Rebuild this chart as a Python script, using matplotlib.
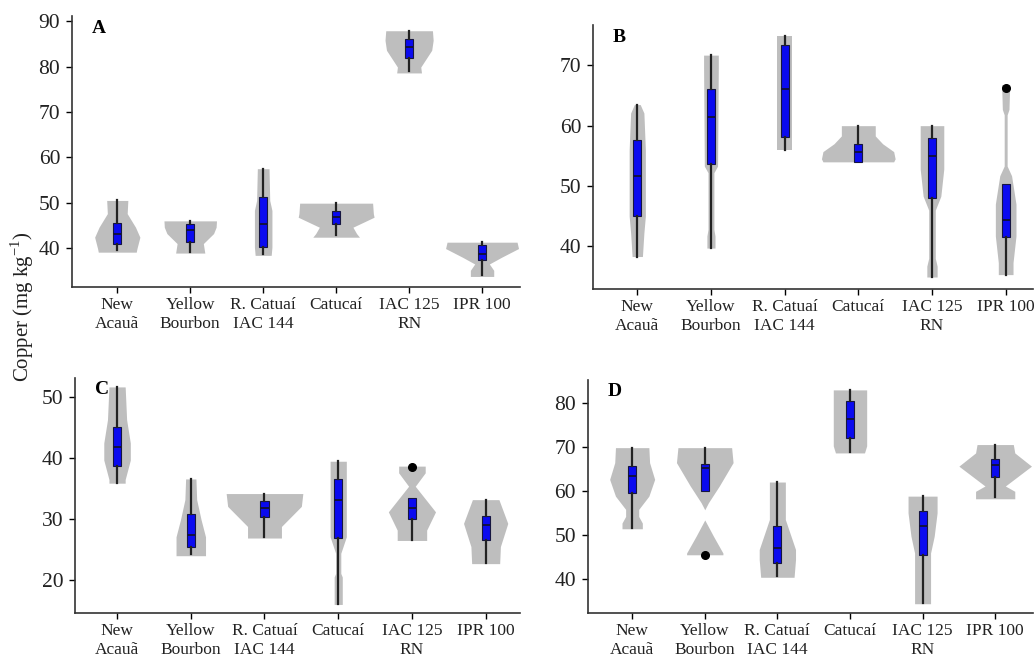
import matplotlib
matplotlib.use("Agg")
import matplotlib.pyplot as plt
import numpy as np

plt.rcParams['font.family'] = ['Liberation Serif', 'DejaVu Serif']
plt.rcParams['mathtext.fontset'] = 'custom'
plt.rcParams['mathtext.rm'] = 'Liberation Serif'

cultivars = ["New\nAcauã", "Yellow\nBourbon", "R. Catuaí\nIAC 144",
             "Catucaí", "IAC 125\nRN", "IPR 100"]

# box stats per cultivar: whisker low, q1, median, q3, whisker high
A_box = [[39.5, 41.0, 43.2, 45.5, 50.5],
         [39.1, 41.3, 43.9, 45.4, 46.0],
         [38.8, 40.2, 45.4, 51.3, 57.5],
         [42.8, 45.4, 46.8, 48.1, 49.9],
         [79.0, 82.0, 84.3, 86.0, 87.9],
         [34.0, 37.3, 38.6, 40.6, 41.3]]
A_out = [[], [], [], [], [], []]
# violin outline: levels and half widths
A_vy = [[50.5, 47.6, 44.6, 42.4, 39.9, 39.1],
        [46.0, 44.6, 43.2, 41.0, 38.9],
        [57.5, 50.5, 48.3, 40.2, 38.4],
        [49.9, 47.6, 46.8, 44.6, 43.2, 42.4],
        [87.9, 85.8, 83.6, 79.9, 78.6],
        [41.3, 39.9, 38.0, 36.5, 35.1, 33.75]]
A_vw = [[.145, .136, .25, .31, .27, .26],
        [.36, .355, .32, .18, .20],
        [.08, .09, .12, .12, .11],
        [.50, .51, .52, .23, .28, .32],
        [.32, .33, .31, .16, .17],
        [.48, .50, .27, .10, .16, .16]]

B_box = [[38.3, 45.0, 51.6, 57.7, 63.5],
         [39.7, 53.7, 61.5, 66.1, 71.7],
         [55.9, 58.2, 66.1, 73.3, 74.9],
         [54.0, 54.0, 55.7, 57.0, 60.0],
         [34.9, 48.0, 54.9, 58.0, 60.0],
         [35.3, 41.5, 44.4, 50.3, 50.3]]
B_out = [[], [], [], [], [], [66.2]]
B_vy = [[63.5, 62.1, 56.0, 45.0, 42.2, 38.3],
        [71.7, 69.8, 53.3, 52.2, 42.8, 41.7, 39.7],
        [74.9, 55.9],
        [60.0, 58.3, 57.0, 55.7, 54.5, 54.0],
        [60.0, 52.8, 48.3, 46.0, 38.0, 36.7, 34.9],
        [66.8, 62.7, 61.8, 53.3, 51.7, 47.0, 41.7, 37.3, 35.3]]
B_vw = [[.04, .09, .11, .11, .09, .07],
        [.10, .10, .09, .04, .04, .055, .055],
        [.105, .105],
        [.23, .23, .33, .48, .50, .48],
        [.16, .16, .12, .045, .045, .07, .07],
        [.055, .045, .02, .02, .08, .14, .14, .10, .10]]

C_box = [[35.9, 38.8, 41.8, 45.1, 51.7],
         [24.2, 25.5, 27.4, 30.9, 36.6],
         [27.0, 30.4, 31.8, 33.0, 34.2],
         [16.1, 26.9, 33.2, 36.6, 39.5],
         [26.5, 30.0, 31.8, 33.4, 33.4],
         [22.8, 26.6, 29.0, 30.5, 33.2]]
C_out = [[], [], [], [], [38.5], []]
C_vy = [[51.7, 46.3, 42.5, 39.7, 36.5, 35.9],
        [36.6, 33.2, 29.9, 27.1, 24.0],
        [34.2, 32.1, 28.8, 26.9],
        [39.5, 27.1, 24.4, 21.1, 20.5, 16.0],
        [38.7, 37.6, 35.4, 31.2, 28.2, 26.5],
        [33.2, 29.3, 25.5, 22.7]]
C_vw = [[.11, .13, .18, .18, .11, .11],
        [.07, .08, .14, .20, .20],
        [.52, .50, .23, .23],
        [.11, .11, .035, .035, .055, .055],
        [.18, .18, .045, .32, .20, .20],
        [.18, .30, .20, .19]]

D_box = [[51.6, 59.4, 63.3, 65.6, 69.8],
         [59.9, 59.9, 65.2, 66.2, 69.8],
         [40.6, 43.6, 47.0, 52.1, 62.0],
         [68.8, 72.0, 76.4, 80.4, 82.9],
         [34.6, 45.5, 52.0, 55.5, 58.8],
         [58.5, 63.2, 65.8, 67.3, 70.5]]
D_out = [[], [45.5], [], [], [], []]
D_vy = [[69.8, 66.4, 62.6, 58.8, 55.8, 54.2, 52.7, 51.4],
        [69.8, 66.4, 61.1, 57.3, 55.7, 53.4, 49.7, 45.9, 45.5],
        [62.0, 53.5, 46.7, 44.4, 40.4],
        [82.9, 70.2, 68.6],
        [58.8, 55.0, 49.7, 45.9, 34.4],
        [70.5, 68.6, 65.6, 61.1, 59.9, 58.2]]
D_vw = [[.23, .24, .31, .23, .09, .09, .14, .14],
        [.37, .39, .20, .05, .0, .0, .12, .25, .25],
        [.11, .11, .25, .25, .23],
        [.23, .23, .20],
        [.20, .20, .16, .11, .11],
        [.25, .27, .50, .14, .27, .27]]

panels = [
    ("A", A_box, A_out, A_vy, A_vw, [0.0696, 0.563, 0.4328, 0.413], (-0.62, 5.52), (31.4, 91.2), [40, 50, 60, 70, 80, 90]),
    ("B", B_box, B_out, B_vy, B_vw, [0.573, 0.560, 0.425, 0.402], (-0.60, 5.37), (32.9, 76.7), [40, 50, 60, 70]),
    ("C", C_box, C_out, C_vy, C_vw, [0.0725, 0.067, 0.4295, 0.358], (-0.57, 5.46), (14.6, 53.2), [20, 30, 40, 50]),
    ("D", D_box, D_out, D_vy, D_vw, [0.568, 0.067, 0.430, 0.355], (-0.61, 5.52), (32.3, 85.2), [40, 50, 60, 70, 80]),
]

fig = plt.figure(figsize=(10.35, 6.57), dpi=100)

for letter, box, out, vy, vw, rect, xl, yl, yt in panels:
    ax = fig.add_axes(rect)
    # violins
    for i in range(len(cultivars)):
        y = np.array(vy[i])
        w = np.array(vw[i])
        ax.fill_betweenx(y, i - w, i + w, color="#bebebe", lw=0, zorder=1)
    # boxes
    stats = []
    for i, b in enumerate(box):
        stats.append(dict(whislo=b[0], q1=b[1], med=b[2], q3=b[3], whishi=b[4], fliers=out[i]))
    ax.bxp(stats, positions=range(len(cultivars)), widths=0.11, patch_artist=True,
           showcaps=False, showfliers=True,
           boxprops=dict(facecolor="#0a0af0", edgecolor="#151540", lw=0.8),
           whiskerprops=dict(color="#222222", lw=1.6),
           medianprops=dict(color="#111133", lw=1.3),
           flierprops=dict(marker="o", markerfacecolor="black", markeredgecolor="black", markersize=5.5),
           zorder=2)
    ax.set_xlim(*xl)
    ax.set_ylim(*yl)
    ax.set_yticks(yt)
    ax.set_xticks(range(len(cultivars)))
    ax.set_xticklabels(cultivars, fontsize=12.5, color="#222222", linespacing=1.25)
    ax.tick_params(axis="y", labelsize=15.5, labelcolor="#222222", length=4, width=1, pad=4.5)
    ax.tick_params(axis="x", length=4, width=1, pad=3)
    for s in ["top", "right"]:
        ax.spines[s].set_visible(False)
    for s in ["left", "bottom"]:
        ax.spines[s].set_linewidth(1.2)
        ax.spines[s].set_color("#333333")
    ax.text(0.045, 0.985, letter, transform=ax.transAxes, fontsize=14, fontweight="bold",
            va="top", ha="left")

fig.text(0.021, 1 - 307 / 657, "Copper (mg kg$^{-1}$)", rotation=90, fontsize=15,
         ha="center", va="center", color="#222222")

fig.savefig("out.png", dpi=100)
